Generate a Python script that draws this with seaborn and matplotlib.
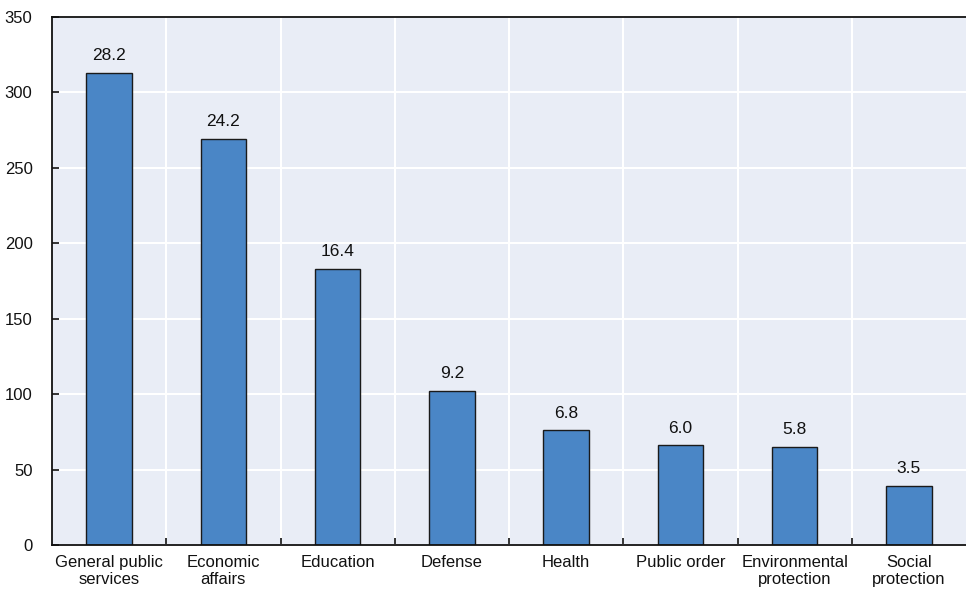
import matplotlib
matplotlib.use("Agg")
import matplotlib.pyplot as plt
import seaborn as sns
import pandas as pd
import numpy as np

# Spending by function: amount (left axis) and share of total (label above bar)
categories = ["General public\nservices", "Economic\naffairs", "Education", "Defense",
              "Health", "Public order", "Environmental\nprotection", "Social\nprotection"]
amounts = [313, 269, 183, 102, 76, 66, 65, 39]
shares = ["28.2", "24.2", "16.4", "9.2", "6.8", "6.0", "5.8", "3.5"]
y_ticks = [0, 50, 100, 150, 200, 250, 300, 350]

sns.set_theme(style="darkgrid")
plt.rcParams["font.family"] = ["Liberation Sans", "DejaVu Sans"]

df = pd.DataFrame({"category": categories, "amount": amounts})

fig = plt.figure(figsize=(9.66, 5.94), dpi=100)
ax = fig.add_axes([52 / 966, 49 / 594, 914 / 966, 528 / 594])
ax.set_facecolor("#E9EDF6")

sns.barplot(data=df, x="category", y="amount", ax=ax, color="#4A86C6",
            saturation=1, width=0.4, edgecolor="#1a1a1a", linewidth=1.0)

ax.bar_label(ax.containers[0], labels=shares, padding=7, fontsize=12.5, color="#111111")

ax.set_ylim(0, 350)
ax.set_xlim(-0.5, len(categories) - 0.5)
ax.set_yticks(y_ticks)
ax.set_xlabel("")
ax.set_ylabel("")

# Vertical grid lines separate the categories
ax.set_xticks(np.arange(len(categories) - 1) + 0.5, minor=True)
ax.grid(False)
ax.grid(True, which="major", axis="y", color="white", linewidth=1.5)
ax.grid(True, which="minor", axis="x", color="white", linewidth=1.5)
ax.set_axisbelow(True)

ax.tick_params(axis="x", which="major", length=0, pad=7, labelsize=12, labelcolor="#111111")
ax.tick_params(axis="x", which="minor", direction="in", length=5, width=1.2,
               color="#111111", bottom=True)
ax.tick_params(axis="y", direction="in", length=5, width=1.2, color="#111111",
               pad=14, labelsize=12, labelcolor="#111111", left=True)

for side in ["left", "top", "bottom"]:
    ax.spines[side].set_visible(True)
    ax.spines[side].set_color("#111111")
    ax.spines[side].set_linewidth(1.3)
ax.spines["right"].set_visible(False)

fig.savefig("out.png", dpi=100)
